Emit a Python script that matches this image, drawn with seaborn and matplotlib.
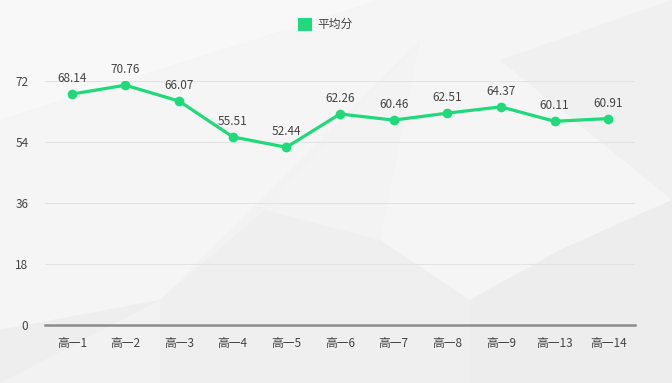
import matplotlib
matplotlib.use("Agg")
import matplotlib.pyplot as plt
import seaborn as sns
from matplotlib.patches import Polygon

classes = ["高一1", "高一2", "高一3", "高一4", "高一5", "高一6", "高一7", "高一8", "高一9", "高一13", "高一14"]
avg_scores = [68.14, 70.76, 66.07, 55.51, 52.44, 62.26, 60.46, 62.51, 64.37, 60.11, 60.91]
y_ticks = [0, 18, 36, 54, 72]

sns.set_style("white")
plt.rcParams['font.family'] = ['Noto Sans CJK SC', 'DejaVu Sans']

fig = plt.figure(figsize=(6.72, 3.83), dpi=100)
fig.patch.set_facecolor("#f2f2f3")

# low-poly background, in pixel coords converted to figure fraction
W, H = 672, 383
polys = [
    ([(0, 0), (380, 0), (0, 120)], "#f8f8f8"),
    ([(0, 120), (380, 0), (420, 40), (160, 300), (0, 330)], "#f5f5f5"),
    ([(0, 330), (160, 300), (0, 383)], "#eeeeef"),
    ([(160, 300), (265, 210), (380, 240), (470, 300), (470, 383), (160, 383)], "#efeff0"),
    ([(380, 0), (672, 0), (672, 200), (560, 250), (470, 300), (380, 240), (420, 40)], "#f5f5f5"),
    ([(560, 250), (672, 200), (672, 383), (470, 383), (470, 300)], "#ededee"),
    ([(420, 40), (380, 240), (265, 210)], "#f3f3f4"),
    ([(500, 60), (672, 0), (672, 200)], "#f0f0f1"),
]
for pts, c in polys:
    fig.patches.append(Polygon([(x / W, 1 - y / H) for x, y in pts], closed=True,
                               transform=fig.transFigure, facecolor=c, edgecolor="none", zorder=-10))

ax = fig.add_axes([45 / W, 58 / H, 590 / W, 244 / H])
ax.patch.set_alpha(0)

green = "#1fd97a"
x_pos = list(range(len(classes)))
sns.lineplot(x=x_pos, y=avg_scores, ax=ax, color=green, linewidth=2.3, marker="o",
             markersize=7, markeredgewidth=0, label="平均分", legend=False)

for x, v in zip(x_pos, avg_scores):
    ax.annotate(f"{v:.2f}", (x, v), xytext=(0, 6.5), textcoords="offset points",
                ha="center", va="bottom", fontsize=8.5, color="#444444")

ax.set_xlim(-0.5, len(classes) - 0.5)
ax.set_ylim(0, 72)
ax.set_xticks(x_pos)
ax.set_xticklabels(classes)
ax.set_yticks(y_ticks)
ax.tick_params(axis="both", length=0, labelsize=8.5, colors="#444444")
ax.tick_params(axis="x", pad=9)
ax.tick_params(axis="y", pad=12)
ax.grid(axis="y", color="#e3e3e3", linewidth=0.8)
ax.set_axisbelow(True)
for s in ["top", "right", "left"]:
    ax.spines[s].set_visible(False)
ax.spines["bottom"].set_color("#8c8c8c")
ax.spines["bottom"].set_linewidth(1.8)
ax.spines["bottom"].set_zorder(5)

# legend
fig.patches.append(plt.Rectangle((298 / W, 1 - 31 / H), 14 / W, 13 / H, transform=fig.transFigure,
                                 facecolor=green, edgecolor="none"))
fig.text(317 / W, 1 - 24.5 / H, "平均分", fontsize=8.5, color="#444444", va="center", ha="left")

fig.savefig("out.png", dpi=100)
